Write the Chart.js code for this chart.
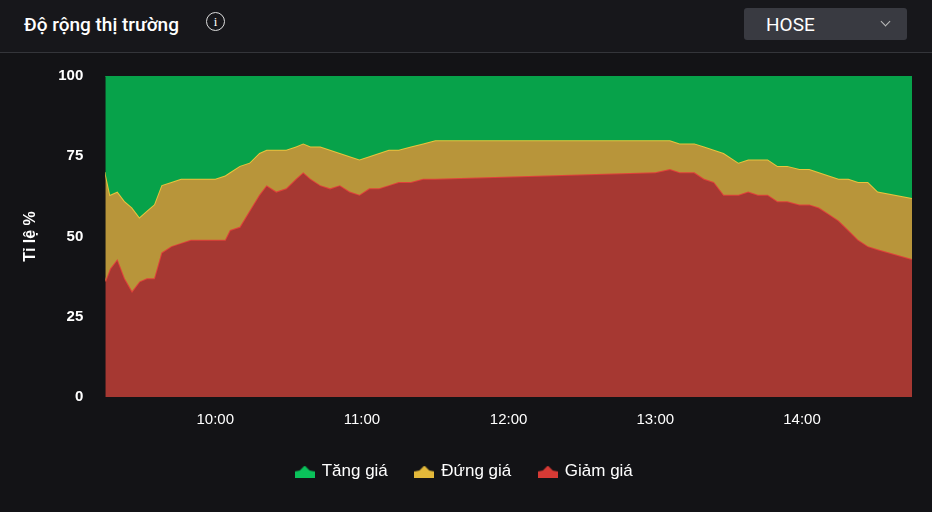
<!DOCTYPE html>
<html><head><meta charset="utf-8">
<script src="https://cdn.jsdelivr.net/npm/chart.js@4"></script>
<style>
body{margin:0;background:#131316;font-family:Roboto,"Noto Sans",sans-serif;color:#fff;width:932px;height:512px;overflow:hidden}
#hdr{height:52px;border-bottom:1px solid #34353a;position:relative;background:#17171b}
#title{position:absolute;left:24px;top:13px;font-size:19px;font-weight:500}
#info{position:absolute;left:206px;top:12px;width:17px;height:17px;border:1.5px solid #ddd;border-radius:50%;font-size:13px;text-align:center;line-height:17px;font-family:serif}
#dd{position:absolute;left:744px;top:8px;width:163px;height:32px;background:#393a41;border-radius:3px}
#dd span{position:absolute;left:22px;top:5px;font-size:19px}
#dd i{position:absolute;right:18px;top:10px;width:6px;height:6px;border-right:1.5px solid #bbb;border-bottom:1.5px solid #bbb;transform:rotate(45deg)}
#wrap{position:absolute;left:0;top:53px;width:932px;height:459px}
</style></head><body>
<div id="hdr"><div id="title">Độ rộng thị trường</div><div id="info">i</div><div id="dd"><span>HOSE</span><i></i></div></div>
<div id="wrap"><canvas id="c"></canvas></div>
<script>
const times=["09:15","09:17","09:20","09:23","09:26","09:29","09:32","09:35","09:38","09:42","09:46","09:50","09:55","10:00","10:04","10:06","10:10","10:14","10:18","10:21","10:25","10:29","10:33","10:36","10:39","10:43","10:47","10:51","10:55","10:59","11:03","11:07","11:11","11:15","11:20","11:25","11:30","13:00","13:06","13:10","13:16","13:20","13:24","13:28","13:34","13:38","13:42","13:46","13:50","13:54","13:59","14:03","14:07","14:11","14:15","14:19","14:23","14:27","14:31","14:45"];
const declinePct=[36,40,43,37,33,36,37,37,45,47,48,49,49,49,49,52,53,58,63,66,64,65,68,70,68,66,65,66,64,63,65,65,66,67,67,68,68,70,71,70,70,68,67,63,63,64,63,63,61,61,60,60,59,57,55,52,49,47,46,43];
const declinePlusUnchangedPct=[70,63,64,61,59,56,58,60,66,67,68,68,68,68,69,70,72,73,76,77,77,77,78,79,78,78,77,76,75,74,75,76,77,77,78,79,80,80,80,79,79,78,77,76,73,74,74,74,72,72,71,71,70,69,68,68,67,67,64,62];
const xTickLabels=["10:00","11:00","12:00","13:00","14:00"];
const yTicks=[0,25,50,75,100];
const legendNames=["Tăng giá","Đứng giá","Giảm giá"];
const toMin=s=>{const[h,m]=s.split(":").map(Number);return h*60+m;};
const pts=arr=>times.map((t,i)=>({x:toMin(t),y:arr[i]}));
function icon(c){const k=document.createElement('canvas');k.width=20;k.height=12;const g=k.getContext('2d');g.fillStyle=c;g.beginPath();g.moveTo(0,12);g.lineTo(0,6);g.lineTo(5,5);g.lineTo(10,0);g.lineTo(15,5);g.lineTo(20,6);g.lineTo(20,12);g.closePath();g.fill();return k;}
new Chart(document.getElementById('c'),{type:'line',
data:{datasets:[
{label:legendNames[0],data:times.map(t=>({x:toMin(t),y:100})),borderColor:'#07a24a',backgroundColor:'#07a24a',fill:1,pointStyle:icon('#0ac25a'),order:1},
{label:legendNames[1],data:pts(declinePlusUnchangedPct),borderColor:'#e8c43c',backgroundColor:'#b8953a',fill:2,pointStyle:icon('#e3b83a'),order:2},
{label:legendNames[2],data:pts(declinePct),borderColor:'#e0413a',backgroundColor:'#a63832',fill:'origin',pointStyle:icon('#d63a35'),order:3}
]},
options:{responsive:true,maintainAspectRatio:false,animation:false,
layout:{padding:{top:-2,right:20,left:17,bottom:22}},
elements:{point:{radius:0},line:{borderWidth:2,tension:0}},
scales:{
x:{type:'linear',min:555,max:885,grid:{display:false},border:{display:false},
 afterBuildTicks:a=>{a.ticks=xTickLabels.map(s=>({value:toMin(s)}));},
 ticks:{color:'#fff',font:{size:15},padding:6,callback:v=>{const h=Math.floor(v/60),m=v%60;return h+":"+String(m).padStart(2,'0');}}},
y:{min:0,max:100,grid:{display:false},border:{display:false},
 afterBuildTicks:a=>{a.ticks=yTicks.map(v=>({value:v}));},
 ticks:{color:'#fff',font:{size:15,weight:'bold'},padding:14},
 title:{display:true,text:'Tỉ lệ %',color:'#fff',font:{size:16,weight:'bold'}}}
},
plugins:{tooltip:{enabled:false},legend:{position:'bottom',labels:{usePointStyle:true,color:'#fff',font:{size:17},padding:28}}}
}});
</script></body></html>
